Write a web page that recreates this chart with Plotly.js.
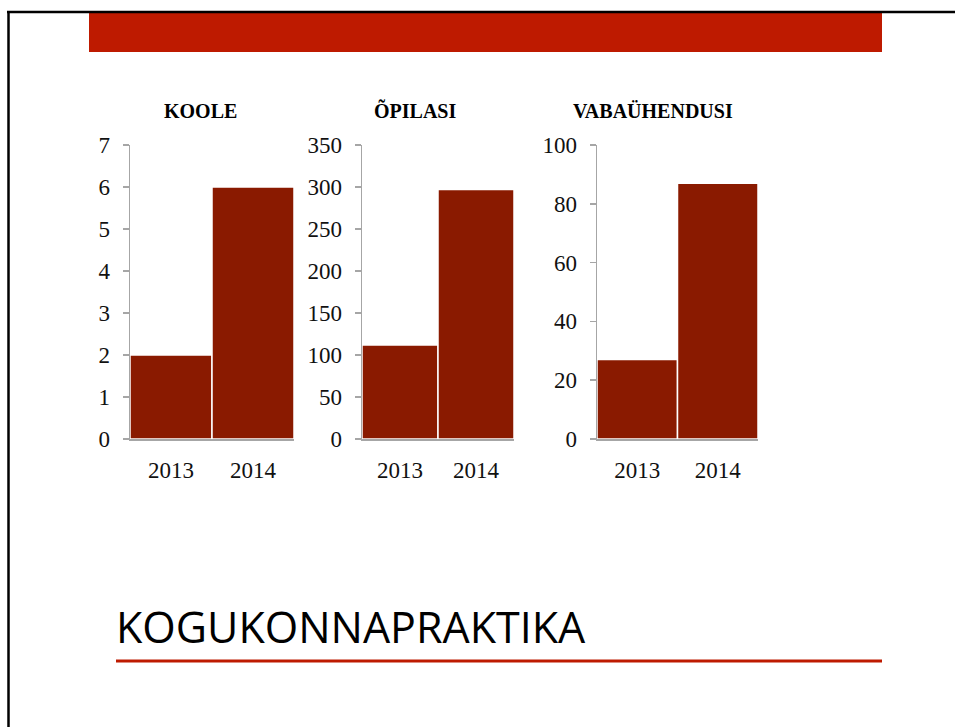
<!DOCTYPE html>
<html><head><meta charset="utf-8">
<script src="https://cdn.plot.ly/plotly-3.0.1.min.js"></script>
<style>html,body{margin:0;padding:0;background:#fff}#chart{width:955px;height:727px}</style>
</head><body><div id="chart"></div>
<script>
// ---- data ----
const years = ['2013', '2014'];
const koole = [2, 6];
const opilasi = [112, 297];
const vabauhendusi = [27, 87];
const panelTitles = ['KOOLE', 'ÕPILASI', 'VABAÜHENDUSI'];
const slideTitle = 'KOGUKONNAPRAKTIKA';
const yRanges = [[0, 7], [0, 350], [0, 100]];
const yDticks = [1, 50, 20];

// ---- layout helpers ----
const W = 955, H = 727;
const fx = p => p / W, fy = p => 1 - p / H;
const panelX = [[130, 294], [362, 514], [597, 758]];
const titleX = [200, 415, 653];
const BAR = '#8A1A00', RED = '#BE1A00', GREY = '#A6A6A6';
const tickFont = {family: 'Liberation Serif, Times New Roman, serif', size: 23, color: '#111'};

const series = [koole, opilasi, vabauhendusi];
const data = series.map((s, i) => ({
  type: 'bar', x: years, y: s,
  xaxis: i ? 'x' + (i + 1) : 'x', yaxis: i ? 'y' + (i + 1) : 'y',
  marker: {color: BAR, line: {color: '#ffffff', width: 1.5}},
  hoverinfo: 'none'
}));

const layout = {
  width: W, height: H, margin: {l: 0, r: 0, t: 0, b: 0},
  paper_bgcolor: '#fff', plot_bgcolor: 'rgba(0,0,0,0)',
  showlegend: false, bargap: 0,
  annotations: [], shapes: []
};
series.forEach((s, i) => {
  const xk = i ? 'xaxis' + (i + 1) : 'xaxis', yk = i ? 'yaxis' + (i + 1) : 'yaxis';
  const yid = i ? 'y' + (i + 1) : 'y', xid = i ? 'x' + (i + 1) : 'x';
  layout[xk] = {
    type: 'category',
    domain: [fx(panelX[i][0]), fx(panelX[i][1])], anchor: yid,
    range: [-0.5, 1.5], showline: true, linecolor: GREY, linewidth: 1.5,
    ticks: '', showgrid: false, zeroline: false, tickfont: tickFont,
    ticklabelstandoff: 10, fixedrange: true
  };
  layout[yk] = {
    domain: [fy(439), fy(145)], anchor: xid,
    range: yRanges[i], dtick: yDticks[i], tick0: 0,
    showline: true, linecolor: GREY, linewidth: 1.5,
    ticks: 'outside', ticklen: 6, tickwidth: 1.5, tickcolor: GREY,
    showgrid: false, zeroline: false, tickfont: tickFont,
    ticklabelstandoff: 8, fixedrange: true
  };
  layout.annotations.push({
    text: panelTitles[i], xref: 'paper', yref: 'paper',
    x: fx(titleX[i]), y: fy(111), xanchor: 'center', yanchor: 'middle', showarrow: false,
    font: {family: 'Liberation Serif, Times New Roman, serif', size: 20, weight: 'bold', color: '#000'}
  });
});
layout.annotations.push({
  text: slideTitle, xref: 'paper', yref: 'paper',
  x: fx(114), y: fy(626), xanchor: 'left', yanchor: 'middle', showarrow: false,
  font: {family: 'Open Sans, Noto Sans, sans-serif', size: 43, color: '#000'}
});
layout.shapes = [
  {type: 'rect', xref: 'paper', yref: 'paper', x0: fx(89), x1: fx(882), y0: fy(52), y1: fy(13), fillcolor: RED, line: {width: 0}},
  {type: 'line', xref: 'paper', yref: 'paper', x0: fx(7), x1: 1, y0: fy(12), y1: fy(12), line: {color: '#000', width: 2.5}},
  {type: 'line', xref: 'paper', yref: 'paper', x0: fx(8.5), x1: fx(8.5), y0: fy(11), y1: 0, line: {color: '#000', width: 2.5}},
  {type: 'line', xref: 'paper', yref: 'paper', x0: fx(116), x1: fx(882), y0: fy(661), y1: fy(661), line: {color: RED, width: 3}}
];

Plotly.newPlot('chart', data, layout, {staticPlot: true, displayModeBar: false});
</script>
</body></html>
